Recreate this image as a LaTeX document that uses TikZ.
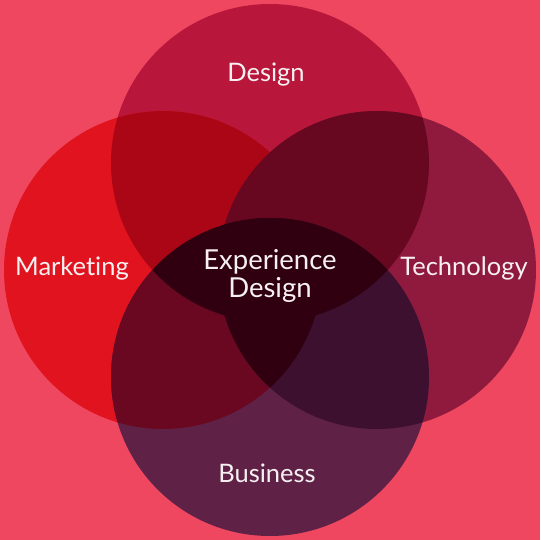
\documentclass[tikz,border=0pt]{standalone}
\usepackage{fontspec}
\setmainfont{Lato}[Ligatures = NoCommon]

\definecolor{backc}{HTML}{EF4760}
\definecolor{topc}{HTML}{B8163A}
\definecolor{leftc}{HTML}{E1131F}
\definecolor{rightc}{HTML}{8F1A3D}
\definecolor{bottomc}{HTML}{5F2246}
\definecolor{tlc}{HTML}{AA0616}
\definecolor{trc}{HTML}{670820}
\definecolor{lbc}{HTML}{690820}
\definecolor{rbc}{HTML}{3E1030}
\definecolor{midc}{HTML}{300010}
\definecolor{textc}{HTML}{F7F0F2}

\begin{document}
\begin{tikzpicture}[x = 1pt, y = 1pt, word/.style = {text = textc, font = \fontsize{25.5}{28.5}\selectfont}]

	% Definitions

	\def\R{159}		% Radius of each circle
	\def\D{107}		% Distance of circle centres from the middle

	\useasboundingbox (-270, -270) rectangle (270, 270);
	\fill [backc] (-270, -270) rectangle (270, 270);

	\coordinate (T) at (0, \D);
	\coordinate (L) at (-\D, 0);
	\coordinate (R) at (\D, 0);
	\coordinate (B) at (0, -\D);

	% Circles, each on its own

	\foreach \p/\c in {T/topc, L/leftc, R/rightc, B/bottomc}
		\fill [\c] (\p) circle (\R);

	% Overlaps of two circles

	\foreach \p/\q/\c in {T/L/tlc, T/R/trc, L/B/lbc, R/B/rbc}
	{
		\begin{scope}
			\clip (\p) circle (\R);
			\fill [\c] (\q) circle (\R);
		\end{scope}
	}

	% Dark middle, where the overlaps meet

	\begin{scope}
		\clip (T) circle (\R);
		\fill [midc] (B) circle (\R);
	\end{scope}
	\begin{scope}
		\clip (L) circle (\R);
		\clip (R) circle (\R);
		\fill [midc] (B) circle (\R);
	\end{scope}

	% Labels

	\node [word, anchor = base] (design) at (-4, 188) {Design};
	\node [word, anchor = base] (marketing) at (-198, -6) {Marketing};
	\node [word, anchor = base] (technology) at (194, -6) {Technology};
	\node [word, anchor = base] (business) at (-3, -212) {Business};
	\node [word, align = center, font = \fontsize{27.5}{28.5}\selectfont] (experience) at (0, -6) {Experience\\Design};

\end{tikzpicture}
\end{document}
